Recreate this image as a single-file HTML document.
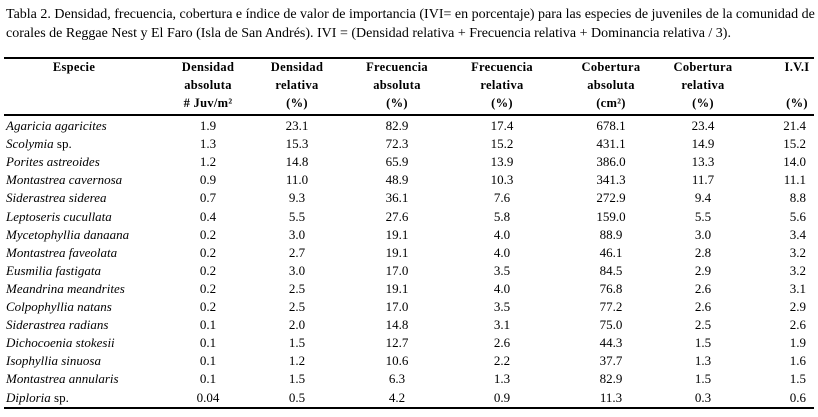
<!DOCTYPE html>
<html><head><meta charset="utf-8">
<style>
body{margin:0;background:#fff;width:818px;height:417px;overflow:hidden;font-family:"Liberation Serif",serif;color:#000;position:relative}
.cap{position:absolute;left:6px;font-size:14px;white-space:nowrap}
.rule{position:absolute;left:4px;width:810px;height:2px;background:#000}
.h{position:absolute;font-weight:bold;font-size:12.5px;text-align:center;line-height:18px;letter-spacing:0.3px}
.c{position:absolute;font-size:13px;line-height:18px;white-space:nowrap}
.sp{font-style:italic}
</style></head><body>
<div class="cap" style="top:7px">Tabla 2. Densidad, frecuencia, cobertura e índice de valor de importancia (IVI= en porcentaje) para las especies de juveniles de la comunidad de</div>
<div class="cap" style="top:26px">corales de Reggae Nest y El Faro (Isla de San Andrés). IVI = (Densidad relativa + Frecuencia relativa + Dominancia relativa / 3).</div>
<div class="rule" style="top:57px"></div>
<div class="rule" style="top:114px"></div>
<div class="rule" style="top:407px"></div>
<div id="hdr"></div>
<div id="body"></div>
<script>
const species=["Agaricia agaricites","Scolymia","Porites astreoides","Montastrea cavernosa","Siderastrea siderea","Leptoseris cucullata","Mycetophyllia danaana","Montastrea faveolata","Eusmilia fastigata","Meandrina meandrites","Colpophyllia natans","Siderastrea radians","Dichocoenia stokesii","Isophyllia sinuosa","Montastrea annularis","Diploria"];
const spSuffix=["","sp.","","","","","","","","","","","","","","sp."];
const densAbs=["1.9","1.3","1.2","0.9","0.7","0.4","0.2","0.2","0.2","0.2","0.2","0.1","0.1","0.1","0.1","0.04"];
const densRel=["23.1","15.3","14.8","11.0","9.3","5.5","3.0","2.7","3.0","2.5","2.5","2.0","1.5","1.2","1.5","0.5"];
const frecAbs=["82.9","72.3","65.9","48.9","36.1","27.6","19.1","19.1","17.0","19.1","17.0","14.8","12.7","10.6","6.3","4.2"];
const frecRel=["17.4","15.2","13.9","10.3","7.6","5.8","4.0","4.0","3.5","4.0","3.5","3.1","2.6","2.2","1.3","0.9"];
const cobAbs=["678.1","431.1","386.0","341.3","272.9","159.0","88.9","46.1","84.5","76.8","77.2","75.0","44.3","37.7","82.9","11.3"];
const cobRel=["23.4","14.9","13.3","11.7","9.4","5.5","3.0","2.8","2.9","2.6","2.6","2.5","1.5","1.3","1.5","0.3"];
const ivi=["21.4","15.2","14.0","11.1","8.8","5.6","3.4","3.2","3.2","3.1","2.9","2.6","1.9","1.6","1.5","0.6"];
const headers=[["Especie","",""],["Densidad","absoluta","# Juv/m²"],["Densidad","relativa","(%)"],["Frecuencia","absoluta","(%)"],["Frecuencia","relativa","(%)"],["Cobertura","absoluta","(cm²)"],["Cobertura","relativa","(%)"],["I.V.I","","(%)"]];
const centers=[74,208,297,397,502,611,703,797];
const cols=[densAbs,densRel,frecAbs,frecRel,cobAbs,cobRel,ivi];
const colNames=["dens-abs","dens-rel","frec-abs","frec-rel","cob-abs","cob-rel","ivi"];
const hdr=document.getElementById('hdr');
headers.forEach((h,i)=>{
  const d=document.createElement('div');
  d.className='h';
  
  
  d.style.left=(centers[i]-60)+'px';d.style.width='120px';d.style.top='58px';
  d.innerHTML=h.map(x=>x||'&nbsp;').join('<br>');
  hdr.appendChild(d);
});
const body=document.getElementById('body');
const rowY=i=>117+i*18.1;
species.forEach((s,r)=>{
  const d=document.createElement('div');
  d.className='c';
  
  
  d.style.left='6px';d.style.top=rowY(r)+'px';
  d.innerHTML='<span class="sp">'+s+'</span>'+(spSuffix[r]?' '+spSuffix[r]:'');
  body.appendChild(d);
  cols.forEach((c,ci)=>{
    const e=document.createElement('div');
    e.className='c';
    
    
    e.style.top=rowY(r)+'px';
    e.style.left=(centers[ci+1]-40)+'px';e.style.width='80px';e.style.textAlign='center';
    if(ci==6){e.style.left='726px';e.style.width='80px';e.style.textAlign='right';}
    e.textContent=c[r];
    body.appendChild(e);
  });
});
</script>
</body></html>
